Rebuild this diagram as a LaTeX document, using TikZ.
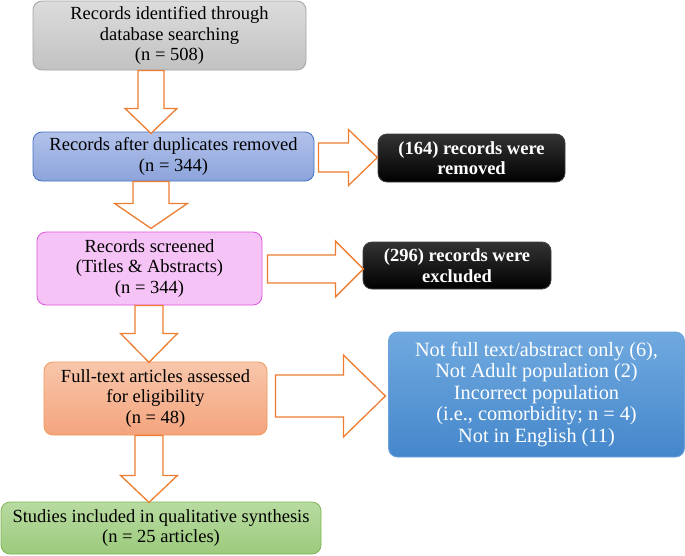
\documentclass[tikz,border=0pt]{standalone}
\usepackage{fontspec}
\setmainfont{Liberation Serif}
\usetikzlibrary{calc}
\definecolor{arrorange}{HTML}{ED7D31}
\definecolor{greytop}{HTML}{DCDCDC}
\definecolor{greybot}{HTML}{C2C2C2}
\definecolor{greyline}{HTML}{A5A5A5}
\definecolor{duptop}{HTML}{B2C2EA}
\definecolor{dupbot}{HTML}{8CA3DB}
\definecolor{dupline}{HTML}{4472C4}
\definecolor{scrfill}{HTML}{F5C3F5}
\definecolor{scrline}{HTML}{DD55DD}
\definecolor{fulltop}{HTML}{F8C6AB}
\definecolor{fullbot}{HTML}{F4A47D}
\definecolor{fullline}{HTML}{F0985A}
\definecolor{incltop}{HTML}{B8DBA1}
\definecolor{inclbot}{HTML}{9CCA7C}
\definecolor{inclline}{HTML}{7DB454}
\definecolor{whytop}{HTML}{70A9DF}
\definecolor{whybot}{HTML}{4487CB}
\definecolor{whyline}{HTML}{6BA3DA}

\begin{document}
\begin{tikzpicture}[x=1pt,y=-1pt,
	box/.style={draw,rounded corners=9pt,line width=.8pt,align=center,inner sep=0pt,font=\fontsize{18.5}{20.5}\selectfont},
	blackbox/.style={box,draw=black!75,top color=black!80,bottom color=black,text=white,font=\fontsize{18.5}{20.5}\selectfont\bfseries},
	arrline/.style={draw=arrorange,fill=white,line width=1.3pt,line join=miter}]
	\tikzset{pics/blockarr/.style args={#1/#2/#3/#4}{code={
		\draw[arrline] (-#1/2,0) -- (-#1/2,#4-#3) -- (-#2/2,#4-#3) -- (0,#4) -- (#2/2,#4-#3) -- (#1/2,#4-#3) -- (#1/2,0) -- cycle;}}}
	\useasboundingbox (0,0) rectangle (685,555);
	\node[box,draw=greyline,top color=greytop,bottom color=greybot,minimum width=273,minimum height=69] (rec) at (169.5,35.5) {Records identified through\\database searching\\(n = 508)};
	\node[box,draw=dupline,top color=duptop,bottom color=dupbot,minimum width=281,minimum height=49] (dup) at (173.5,156.5) {Records after duplicates removed\\(n = 344)};
	\node[box,draw=scrline,fill=scrfill,minimum width=225,minimum height=73] (scr) at (149.5,268.5) {Records screened\\(Titles \& Abstracts)\\(n = 344)};
	\node[box,draw=fullline,top color=fulltop,bottom color=fullbot,minimum width=223,minimum height=73] (full) at (155.5,398.5) {Full-text articles assessed\\for eligibility\\(n = 48)};
	\node[box,draw=inclline,top color=incltop,bottom color=inclbot,minimum width=320,minimum height=52] (incl) at (161,528) {Studies included in qualitative synthesis\\(n = 25 articles)};
	\node[blackbox,minimum width=187,minimum height=48] (rem) at (471.5,158) {(164) records were\\removed};
	\node[blackbox,minimum width=188,minimum height=47] (exc) at (457,265.5) {(296) records were\\excluded};
	\node[box,draw=whyline,top color=whytop,bottom color=whybot,text=white,font=\fontsize{20.3}{21.5}\selectfont,minimum width=296,minimum height=125] (why) at (536.5,394.5) {Not full text/abstract only (6),\\Not Adult population (2)\\Incorrect population\\(i.e., comorbidity; n = 4)\\Not in English (11)};
	\coordinate (ax) at (151,0);
	\coordinate (bx) at (149,0);
	\draw (rec.south -| ax) pic {blockarr=26/52/25/63};
	\draw (dup.south -| ax) pic {blockarr=36/73/25/47};
	\draw (scr.south -| bx) pic {blockarr=28/57/29/57};
	\draw (full.south -| bx) pic {blockarr=28/57/27/67};
	\draw ($(dup.east)+(4,1)$) pic[rotate=90] {blockarr=29/56/29/59};
	\draw ($(scr.east)+(5,.5)$) pic[rotate=90] {blockarr=28/56/28/96};
	\draw ($(full.east)+(8,-2.5)$) pic[rotate=90] {blockarr=42/82/42/110};
\end{tikzpicture}
\end{document}
